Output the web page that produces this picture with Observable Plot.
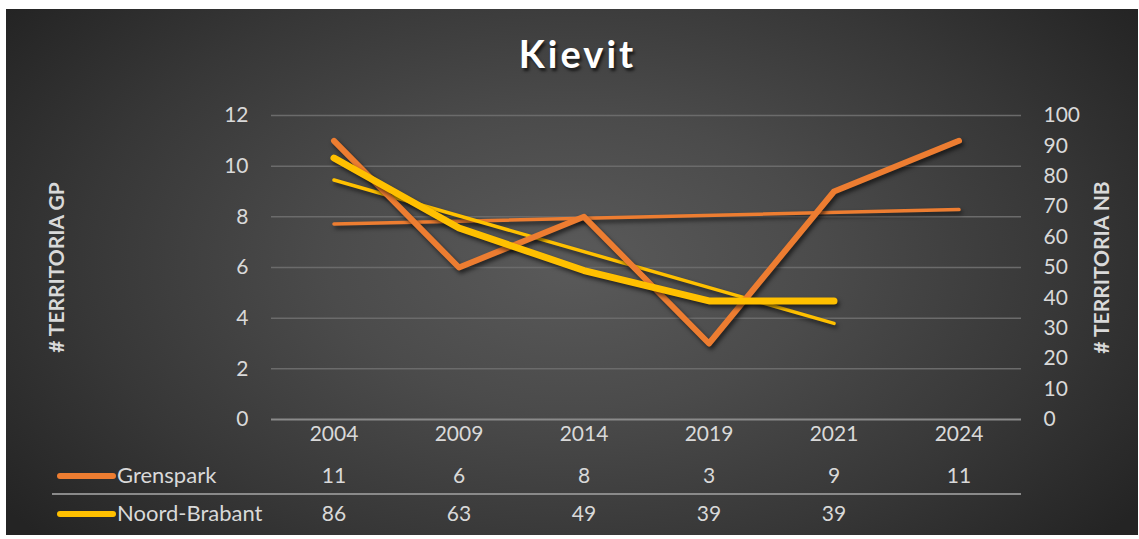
<!DOCTYPE html>
<html>
<head>
<meta charset="utf-8">
<script src="https://cdn.jsdelivr.net/npm/d3@7"></script>
<script src="https://cdn.jsdelivr.net/npm/@observablehq/plot@0.6"></script>
<style>
  html, body { margin: 0; padding: 0; background: #ffffff; }
  #page { position: relative; width: 1139px; height: 539px; overflow: hidden; font-family: Lato, "Open Sans", sans-serif; }
  #bg { position: absolute; left: 6px; top: 9px; width: 1132px; height: 526px;
        background: radial-gradient(ellipse 62% 80% at 50% 48%, #5a5a5a 0%, #4b4b4b 35%, #373737 70%, #242424 100%); }
  #title { position: absolute; left: 8px; width: 1139px; top: 30px; text-align: center;
           font-family: Lato, sans-serif; font-weight: bold; font-size: 38px; letter-spacing: 3px;
           color: #ffffff; text-shadow: 2px 3px 3px rgba(0,0,0,0.65); }
  #chart { position: absolute; left: 0; top: 0; }
  #chart svg { overflow: visible; }
  #chart svg g[aria-label="line"], #chart svg g[aria-label="linear-regression"] { filter: drop-shadow(2px 3px 2px rgba(0,0,0,0.6)); }
  .key { position: absolute; left: 57px; width: 59px; height: 6px; border-radius: 3px; }
  .keylabel { position: absolute; left: 117px; font-family: Lato, sans-serif; font-size: 22px; color: #d9d9d9; line-height: 22px; }
  #sep { position: absolute; left: 52px; width: 969px; top: 493px; height: 2px; background: #8a8a8a; }
</style>
</head>
<body>
<div id="page">
  <div id="bg"></div>
  <div id="title">Kievit</div>
  <div id="sep"></div>
  <div class="key" style="top:473px; background:#ED7D31;"></div>
  <div class="keylabel" style="top:464px;">Grenspark</div>
  <div class="key" style="top:511px; background:#FFC000;"></div>
  <div class="keylabel" style="top:502px;">Noord-Brabant</div>
  <div id="chart"></div>
</div>
<script>
const years = ["2004", "2009", "2014", "2019", "2021", "2024"];
const grenspark = [11, 6, 8, 3, 9, 11];
const noordBrabant = [86, 63, 49, 39, 39];
const gpTicks = [0, 2, 4, 6, 8, 10, 12];
const nbTicks = [0, 10, 20, 30, 40, 50, 60, 70, 80, 90, 100];
const seriesNames = ["Grenspark", "Noord-Brabant"];
const axisTitles = ["# TERRITORIA GP", "# TERRITORIA NB"];

const k = 12 / 100; // NB -> GP axis scale
const orange = "#ED7D31", yellow = "#FFC000", textCol = "#d9d9d9";
const fs = 21;

const gpData = grenspark.map((v, i) => ({i, v}));
const nbData = noordBrabant.map((v, i) => ({i, v: v * k, raw: v}));

const chart = Plot.plot({
  width: 1139,
  height: 539,
  marginLeft: 271,
  marginRight: 118,
  marginTop: 115,
  marginBottom: 120,
  style: {background: "transparent", color: textCol, fontFamily: "Lato, sans-serif", fontSize: fs + "px"},
  x: {type: "linear", domain: [-0.5, 5.5], axis: null},
  y: {domain: [0, 12], axis: null},
  marks: [
    Plot.gridY(gpTicks.filter(d => d > 0), {stroke: "#6b6b6b", strokeOpacity: 1, strokeWidth: 1.5}),
    Plot.ruleY([0], {stroke: "#8a8a8a", strokeWidth: 2}),
    Plot.axisX(d3.range(years.length), {tickSize: 0, tickPadding: 7, tickFormat: i => years[i], fontSize: fs, label: null}),
    Plot.axisY(gpTicks, {anchor: "left", tickSize: 0, tickPadding: 23, fontSize: fs, label: null}),
    Plot.axisY(nbTicks.map(v => v * k), {anchor: "right", tickSize: 0, tickPadding: 22, fontSize: fs, tickFormat: d => String(Math.round(d / k)), label: null}),
    Plot.text([axisTitles[0]], {frameAnchor: "left", textAnchor: "middle", text: d => d, rotate: -90, dx: -214, fontWeight: "bold", fontSize: 21}),
    Plot.text([axisTitles[1]], {frameAnchor: "right", textAnchor: "middle", text: d => d, rotate: -90, dx: 81, fontWeight: "bold", fontSize: 21}),
    Plot.linearRegressionY(gpData, {x: "i", y: "v", stroke: orange, strokeWidth: 3.5, ci: 0, strokeLinecap: "round"}),
    Plot.linearRegressionY(nbData, {x: "i", y: "v", stroke: yellow, strokeWidth: 3.5, ci: 0, strokeLinecap: "round"}),
    Plot.line(gpData, {x: "i", y: "v", stroke: orange, strokeWidth: 6, strokeLinecap: "round", strokeLinejoin: "round"}),
    Plot.line(nbData, {x: "i", y: "v", stroke: yellow, strokeWidth: 7, strokeLinecap: "round", strokeLinejoin: "round"}),
    Plot.text(gpData, {x: "i", y: () => 0, dy: 57, text: d => String(d.v), fontSize: fs}),
    Plot.text(nbData, {x: "i", y: () => 0, dy: 95, text: d => String(d.raw), fontSize: fs})
  ]
});
document.getElementById("chart").appendChild(chart);
</script>
</body>
</html>
